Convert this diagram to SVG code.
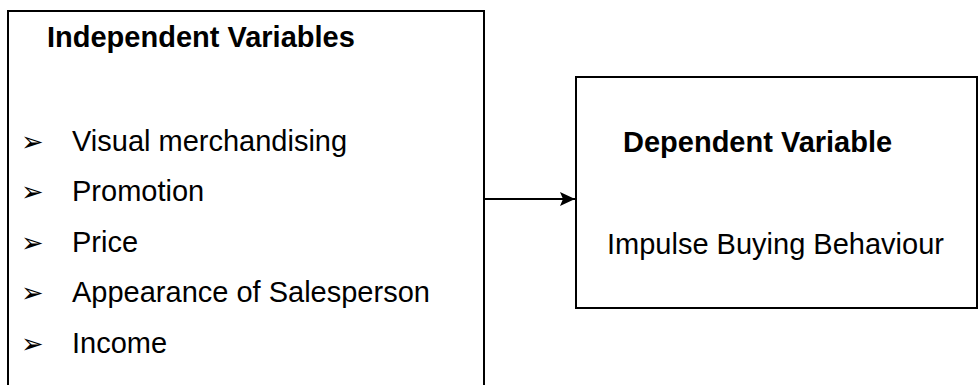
<svg xmlns="http://www.w3.org/2000/svg" width="979" height="385" viewBox="0 0 979 385">
<style>
.box{fill:#fff;stroke:#000;stroke-width:2}
.t{font-family:"Liberation Sans",Arial,sans-serif;font-size:29px;fill:#000}
.b{font-weight:bold}
.bul{font-family:"DejaVu Sans",sans-serif;font-size:27px;fill:#000}
.conn{stroke:#000;stroke-width:2;fill:none}
</style>
<defs>
<marker id="ah" markerWidth="15" markerHeight="14" refX="15" refY="7" orient="auto" markerUnits="userSpaceOnUse" viewBox="0 0 15 14">
<path d="M0,0 L15,7 L0,14 L3,7 Z" fill="#000"/>
</marker>
</defs>
<rect width="979" height="385" fill="#fff"/>
<g id="independent">
<rect class="box" x="8" y="11" width="476" height="400"/>
<text class="t b" x="47" y="47">Independent Variables</text>
<text class="bul" x="21" y="151">➢</text>
<text class="t" x="72" y="151">Visual merchandising</text>
<text class="bul" x="21" y="201">➢</text>
<text class="t" x="72" y="201">Promotion</text>
<text class="bul" x="21" y="252">➢</text>
<text class="t" x="72" y="252">Price</text>
<text class="bul" x="21" y="302">➢</text>
<text class="t" x="72" y="302">Appearance of Salesperson</text>
<text class="bul" x="21" y="353">➢</text>
<text class="t" x="72" y="353">Income</text>
</g>
<g id="dependent">
<rect class="box" x="576" y="77" width="401" height="231"/>
<text class="t b" x="623" y="152">Dependent Variable</text>
<text class="t" x="607" y="254">Impulse Buying Behaviour</text>
</g>
<g id="connectors">
<line class="conn" x1="484" y1="199" x2="575" y2="199" marker-end="url(#ah)"/>
</g>
</svg>
